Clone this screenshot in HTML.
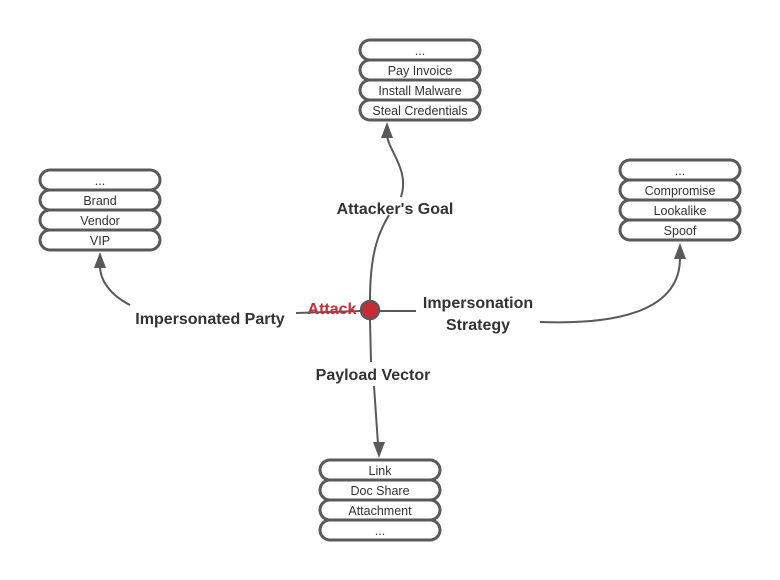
<!DOCTYPE html>
<html><head><meta charset="utf-8"><style>
html,body{margin:0;padding:0;background:#fff;}
svg{display:block;}
.p{fill:#fff;stroke:#595959;stroke-width:3;}
.t{font-family:"Liberation Sans",sans-serif;font-size:12.5px;fill:#333;text-anchor:middle;}
.l{font-family:"Liberation Sans",sans-serif;font-size:16px;font-weight:bold;fill:#333;text-anchor:middle;}
.c{fill:none;stroke:#595959;stroke-width:2;}
.a{fill:#595959;}
</style></head><body>
<svg width="780" height="580" viewBox="0 0 780 580" xmlns="http://www.w3.org/2000/svg">
<!-- connectors -->
<path class="c" d="M370,300 C370,250 380,230 389,215"/>
<path class="c" d="M398,198 C405,180 410,160 386,136" style="display:none"/>
<path class="c" d="M401,197 C410,170 388,150 387,135"/>
<path class="c" d="M361,311 L296,313"/>
<path class="c" d="M130,305 C110,295 100,280 100,266"/>
<path class="c" d="M380,311 L416,311"/>
<path class="c" d="M540,322 C620,325 680,310 680,258"/>
<path class="c" d="M370,320 L371,362"/>
<path class="c" d="M374,386 L378,444"/>
<!-- arrowheads -->
<polygon class="a" points="387,122 381,138 393,138"/>
<polygon class="a" points="100,252 94,268 106,268"/>
<polygon class="a" points="680,243 674,259 686,259"/>
<polygon class="a" points="379,458 373,442 385,442"/>
<!-- labels -->
<text class="l" x="395" y="214">Attacker's Goal</text>
<text class="l" x="210" y="324">Impersonated Party</text>
<text class="l" x="478" y="308">Impersonation</text>
<text class="l" x="478" y="330">Strategy</text>
<text class="l" x="373" y="380">Payload Vector</text>
<text class="l" x="332" y="314" style="fill:#c92a35">Attack</text>
<circle cx="370" cy="310" r="9" fill="#c92a35" stroke="#595959" stroke-width="2.5"/>
<!-- top stack -->
<rect class="p" x="360" y="40" width="120" height="20" rx="10"/>
<rect class="p" x="360" y="60" width="120" height="20" rx="10"/>
<rect class="p" x="360" y="80" width="120" height="20" rx="10"/>
<rect class="p" x="360" y="100" width="120" height="20" rx="10"/>
<text class="t" x="420" y="55">...</text>
<text class="t" x="420" y="75">Pay Invoice</text>
<text class="t" x="420" y="95">Install Malware</text>
<text class="t" x="420" y="115">Steal Credentials</text>
<!-- left stack -->
<rect class="p" x="40" y="170" width="120" height="20" rx="10"/>
<rect class="p" x="40" y="190" width="120" height="20" rx="10"/>
<rect class="p" x="40" y="210" width="120" height="20" rx="10"/>
<rect class="p" x="40" y="230" width="120" height="20" rx="10"/>
<text class="t" x="100" y="185">...</text>
<text class="t" x="100" y="205">Brand</text>
<text class="t" x="100" y="225">Vendor</text>
<text class="t" x="100" y="245">VIP</text>
<!-- right stack -->
<rect class="p" x="620" y="160" width="120" height="20" rx="10"/>
<rect class="p" x="620" y="180" width="120" height="20" rx="10"/>
<rect class="p" x="620" y="200" width="120" height="20" rx="10"/>
<rect class="p" x="620" y="220" width="120" height="20" rx="10"/>
<text class="t" x="680" y="175">...</text>
<text class="t" x="680" y="195">Compromise</text>
<text class="t" x="680" y="215">Lookalike</text>
<text class="t" x="680" y="235">Spoof</text>
<!-- bottom stack -->
<rect class="p" x="320" y="460" width="120" height="20" rx="10"/>
<rect class="p" x="320" y="480" width="120" height="20" rx="10"/>
<rect class="p" x="320" y="500" width="120" height="20" rx="10"/>
<rect class="p" x="320" y="520" width="120" height="20" rx="10"/>
<text class="t" x="380" y="475">Link</text>
<text class="t" x="380" y="495">Doc Share</text>
<text class="t" x="380" y="515">Attachment</text>
<text class="t" x="380" y="535">...</text>
</svg>
</body></html>
